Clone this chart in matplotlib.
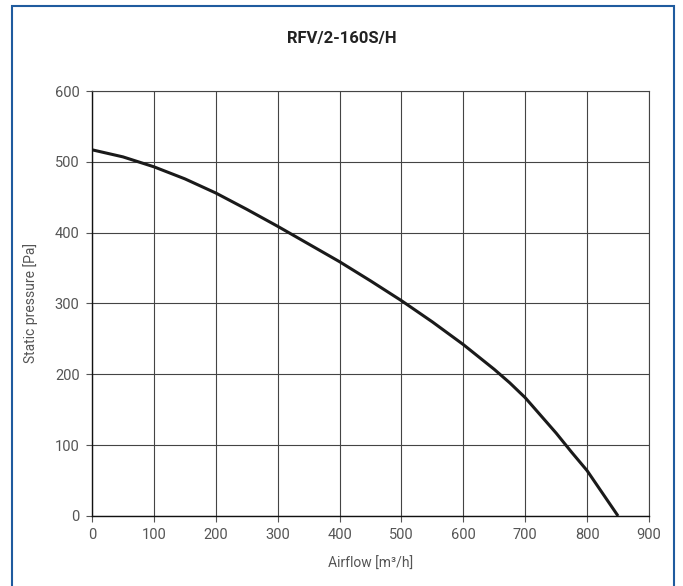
import matplotlib.pyplot as plt
from matplotlib.patches import Rectangle

# fan curve
airflow = [0, 50, 100, 150, 200, 250, 300, 350, 400, 450, 500, 550, 600, 650, 675, 700, 725, 750, 775, 800, 825, 850]
pressure = [517, 507, 493, 476, 456, 433, 409, 384, 359, 332, 304, 274, 242, 207, 188, 167, 142, 117, 90, 64, 32, 0]

x_ticks = [0, 100, 200, 300, 400, 500, 600, 700, 800, 900]
y_ticks = [0, 100, 200, 300, 400, 500, 600]

plt.rcParams['font.family'] = ['Roboto', 'DejaVu Sans']

fig = plt.figure(figsize=(6.83, 5.86), dpi=100)
ax = fig.add_axes([0.1347, 0.1195, 0.8155, 0.7252])

# blue frame round the whole figure
fig.patches.append(Rectangle((12 / 683, -0.05), (674 - 12) / 683, 1.05 - 6.5 / 586,
                             transform=fig.transFigure, fill=False,
                             edgecolor='#1f5b9e', linewidth=1.5))

ax.plot(airflow, pressure, color='#1a1a1a', linewidth=2.2,
        solid_capstyle='butt', solid_joinstyle='round')

ax.set_xlim(0, 900)
ax.set_ylim(0, 600)
ax.set_xticks(x_ticks)
ax.set_yticks(y_ticks)
ax.grid(True, color='#444444', linewidth=0.8)
ax.set_axisbelow(True)

for side in ['top', 'right']:
    ax.spines[side].set_color('#444444')
    ax.spines[side].set_linewidth(0.8)
for side in ['left', 'bottom']:
    ax.spines[side].set_color('#111111')
    ax.spines[side].set_linewidth(1.0)

ax.tick_params(axis='both', direction='out', length=4, width=0.8, color='#555555',
               labelsize=10.5, labelcolor='#555555', pad=5)

ax.set_xlabel('Airflow [m³/h]', fontsize=10, color='#555555', labelpad=10)
ax.set_ylabel('Static pressure [Pa]', fontsize=10, color='#555555', labelpad=12)
fig.text(0.5, 1 - 38 / 586, 'RFV/2-160S/H', ha='center', va='center',
         fontsize=12, fontweight='bold', color='#222222')

fig.savefig('out.png', dpi=100)
